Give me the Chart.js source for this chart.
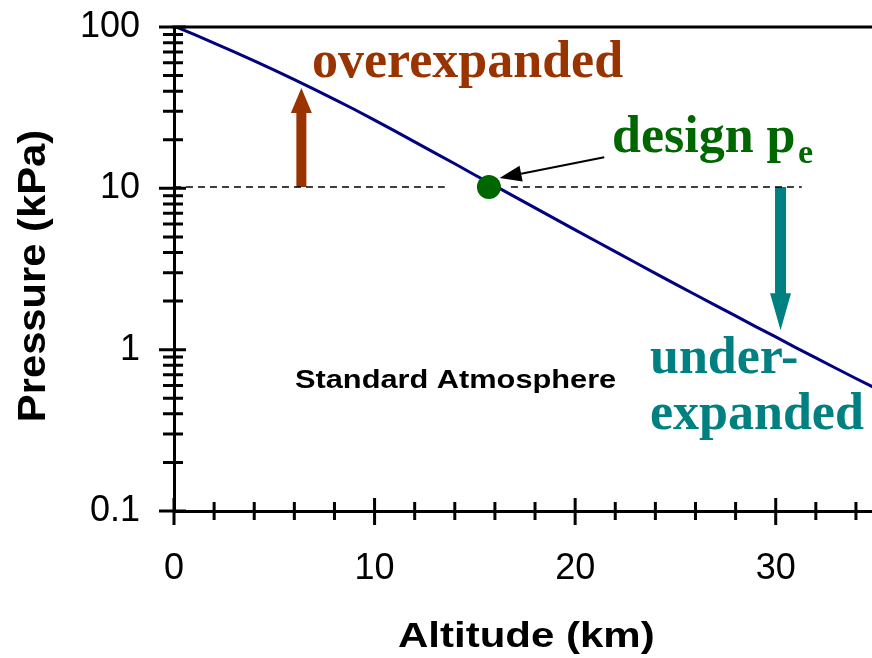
<!DOCTYPE html>
<html>
<head>
<meta charset="utf-8">
<script src="https://cdn.jsdelivr.net/npm/chart.js@4/dist/chart.umd.min.js"></script>
<style>
  html, body { margin: 0; padding: 0; background: #fff; overflow: hidden; }
  #atmChart { display: block; }
</style>
</head>
<body>
<canvas id="atmChart" width="872" height="658"></canvas>
<script>
// Standard atmosphere, km -> kPa
const altitudeKm = [0, 1, 2, 3, 4, 5, 6, 7, 8, 9, 10, 11, 12, 13, 14, 15, 16, 17, 18, 19, 20,
  21, 22, 23, 24, 25, 26, 27, 28, 29, 30, 31, 32, 33, 34, 35];
const pressureKPa = [101.3, 89.9, 79.5, 70.1, 61.7, 54.0, 47.2, 41.1, 35.6, 30.8, 26.5,
  22.7, 19.4, 16.6, 14.2, 12.1, 10.35, 8.85, 7.57, 6.47, 5.53,
  4.73, 4.05, 3.47, 2.97, 2.55, 2.19, 1.88, 1.62, 1.39, 1.20, 1.03, 0.889, 0.767, 0.663, 0.574];

// design exit pressure point
const designAlt = [15.7];
const designP = [10.2];

// dashed reference line (gap near the point)
const dashAlt = [0, 13.5, 15, 16.8, 31.3];
const dashP = [10.2, 10.2, null, 10.2, 10.2];

// axis ticks (the original picture is cut off just short of 35 km)
const xMax = 34.8;
const xTicks = [0, 10, 20, 30];
const xMinorTicks = [2, 4, 6, 8, 12, 14, 16, 18, 22, 24, 26, 28, 32, 34];
const yTicks = [0.1, 1, 10, 100];
const yMinorMult = [2, 3, 4, 5, 6, 7, 8, 9];

// arrows [km, from kPa, tip kPa]
const overArrow = [6.35, 10.2, 41.9];
const underArrow = [30.24, 10.2, 1.32];
const pointerFrom = [21.45, 15.6];
const pointerTo = [16.23, 11.6];

const SANS = '"Liberation Sans", Arial, sans-serif';
const SERIF = '"Liberation Serif", "Times New Roman", serif';

function drawText(ctx, str, x, y, font, color, sx, rot) {
    ctx.save();
    ctx.translate(x, y);
    if (rot) ctx.rotate(rot);
    ctx.scale(sx || 1, 1);
    ctx.font = font;
    ctx.fillStyle = color;
    ctx.textBaseline = 'alphabetic';
    ctx.textAlign = 'left';
    ctx.fillText(str, 0, 0);
    ctx.restore();
}

function blockArrow(ctx, x, y0, y1, shaftW, headW, headH, color) {
    const dir = y1 < y0 ? 1 : -1; // 1 = pointing up
    const base = y1 + dir * headH;
    ctx.save();
    ctx.fillStyle = color;
    ctx.beginPath();
    ctx.moveTo(x - shaftW / 2, y0);
    ctx.lineTo(x - shaftW / 2, base);
    ctx.lineTo(x - headW / 2, base);
    ctx.lineTo(x, y1);
    ctx.lineTo(x + headW / 2, base);
    ctx.lineTo(x + shaftW / 2, base);
    ctx.lineTo(x + shaftW / 2, y0);
    ctx.closePath();
    ctx.fill();
    ctx.restore();
}

const decorPlugin = {
    id: 'decor',
    beforeDatasetsDraw(chart) {
        const ctx = chart.ctx;
        const xs = chart.scales.x, ys = chart.scales.y;
        blockArrow(ctx, xs.getPixelForValue(overArrow[0]), ys.getPixelForValue(overArrow[1]),
            ys.getPixelForValue(overArrow[2]), 10, 21, 25, '#993300');
        blockArrow(ctx, xs.getPixelForValue(underArrow[0]), ys.getPixelForValue(underArrow[1]),
            ys.getPixelForValue(underArrow[2]), 11, 21, 37, '#008080');
    },
    afterDraw(chart) {
        const ctx = chart.ctx;
        const area = chart.chartArea;
        const xs = chart.scales.x, ys = chart.scales.y;

        ctx.save();
        ctx.strokeStyle = '#000';
        ctx.lineWidth = 3;
        // top frame line
        ctx.beginPath();
        ctx.moveTo(area.left - 1.5, area.top);
        ctx.lineTo(area.right, area.top);
        ctx.stroke();

        // y ticks, cross the axis
        ctx.beginPath();
        yTicks.forEach(v => {
            const y = ys.getPixelForValue(v);
            ctx.moveTo(area.left - 15, y);
            ctx.lineTo(area.left + 12, y);
        });
        yTicks.slice(0, -1).forEach(d => {
            yMinorMult.forEach(m => {
                const y = ys.getPixelForValue(d * m);
                ctx.moveTo(area.left - 11, y);
                ctx.lineTo(area.left + 9, y);
            });
        });
        // x ticks
        xTicks.forEach(v => {
            const x = xs.getPixelForValue(v);
            ctx.moveTo(x, area.bottom - 13);
            ctx.lineTo(x, area.bottom + 14);
        });
        xMinorTicks.forEach(v => {
            const x = xs.getPixelForValue(v);
            ctx.moveTo(x, area.bottom - 9);
            ctx.lineTo(x, area.bottom + 9);
        });
        ctx.stroke();

        // pointer arrow to the design point
        const px0 = xs.getPixelForValue(pointerFrom[0]), py0 = ys.getPixelForValue(pointerFrom[1]);
        const px1 = xs.getPixelForValue(pointerTo[0]), py1 = ys.getPixelForValue(pointerTo[1]);
        const ang = Math.atan2(py1 - py0, px1 - px0);
        const hl = 22, hw = 8;
        const bx = px1 - hl * Math.cos(ang), by = py1 - hl * Math.sin(ang);
        ctx.lineWidth = 2;
        ctx.beginPath();
        ctx.moveTo(px0, py0);
        ctx.lineTo(bx, by);
        ctx.stroke();
        ctx.fillStyle = '#000';
        ctx.beginPath();
        ctx.moveTo(px1, py1);
        ctx.lineTo(bx + hw * Math.sin(ang), by - hw * Math.cos(ang));
        ctx.lineTo(bx - hw * Math.sin(ang), by + hw * Math.cos(ang));
        ctx.closePath();
        ctx.fill();
        ctx.restore();

        // labels
        drawText(ctx, 'overexpanded', 312, 77, 'bold 52px ' + SERIF, '#993300');
        drawText(ctx, 'design p', 612, 152, 'bold 52px ' + SERIF, '#006600');
        drawText(ctx, 'e', 798, 163, 'bold 34px ' + SERIF, '#006600');
        drawText(ctx, 'under-', 650, 373, 'bold 52px ' + SERIF, '#008080');
        drawText(ctx, 'expanded', 650, 429, 'bold 52px ' + SERIF, '#008080');
        drawText(ctx, 'Standard Atmosphere', 295, 388, 'bold 25px ' + SANS, '#000', 1.23);

        // axis titles
        drawText(ctx, 'Altitude (km)', 398, 647, 'bold 35px ' + SANS, '#000', 1.2);
        ctx.save();
        ctx.font = 'bold 39px ' + SANS;
        const tw = ctx.measureText('Pressure (kPa)').width * 1.07;
        ctx.restore();
        drawText(ctx, 'Pressure (kPa)', 45, 276 + tw / 2, 'bold 39px ' + SANS, '#000', 1.07, -Math.PI / 2);
    }
};

function initChart() {
    const ctx = document.getElementById('atmChart').getContext('2d');
    new Chart(ctx, {
        type: 'scatter',
        data: {
            datasets: [
                {
                    label: 'design pe',
                    data: designAlt.map((x, i) => ({ x: x, y: designP[i] })),
                    backgroundColor: '#006600',
                    borderWidth: 0,
                    pointRadius: 12,
                    order: 0
                },
                {
                    label: 'Standard Atmosphere',
                    data: altitudeKm.map((x, i) => ({ x: x, y: pressureKPa[i] })),
                    showLine: true,
                    borderColor: '#000080',
                    borderWidth: 3,
                    pointRadius: 0,
                    tension: 0,
                    order: 1
                },
                {
                    label: 'design line',
                    data: dashAlt.map((x, i) => ({ x: x, y: dashP[i] })),
                    showLine: true,
                    spanGaps: false,
                    borderColor: '#000',
                    borderWidth: 1.5,
                    borderDash: [7, 5],
                    pointRadius: 0,
                    order: 2
                }
            ]
        },
        options: {
            responsive: false,
            devicePixelRatio: 1,
            animation: false,
            events: [],
            layout: { autoPadding: false, padding: { top: 0, right: 0, left: 0, bottom: 0 } },
            plugins: { legend: { display: false }, tooltip: { enabled: false } },
            scales: {
                x: {
                    type: 'linear',
                    min: 0,
                    max: xMax,
                    afterBuildTicks: s => { s.ticks = xTicks.map(v => ({ value: v })); },
                    afterFit: s => { s.height = 147; s.paddingLeft = 0; s.paddingRight = 0; },
                    grid: { display: true, drawOnChartArea: false, drawTicks: false },
                    border: { display: true, color: '#000', width: 3 },
                    ticks: {
                        padding: 36,
                        color: '#000',
                        maxRotation: 0,
                        font: { family: SANS, size: 36 },
                        callback: v => String(v)
                    }
                },
                y: {
                    type: 'logarithmic',
                    min: 0.1,
                    max: 100,
                    afterBuildTicks: s => { s.ticks = yTicks.map(v => ({ value: v })); },
                    afterFit: s => { s.width = 174; s.paddingTop = 27; s.paddingBottom = 0; },
                    grid: { display: true, drawOnChartArea: false, drawTicks: false },
                    border: { display: true, color: '#000', width: 3 },
                    ticks: {
                        padding: 34,
                        color: '#000',
                        font: { family: SANS, size: 36 },
                        callback: v => String(v)
                    }
                }
            }
        },
        plugins: [decorPlugin]
    });
}

window.onload = () => {
    initChart();
};
</script>
</body>
</html>
